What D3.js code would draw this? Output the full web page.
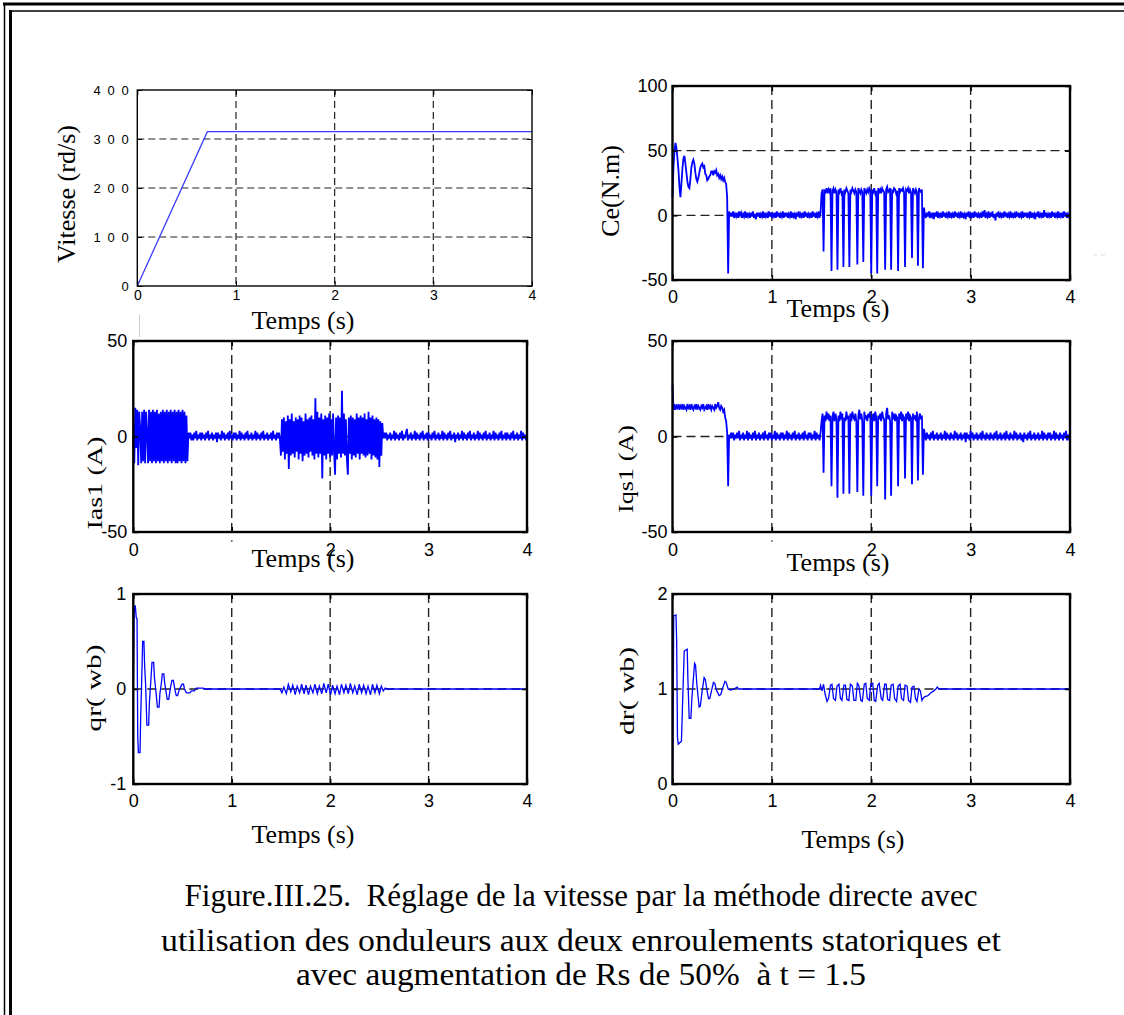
<!DOCTYPE html>
<html><head><meta charset="utf-8">
<script src="https://cdn.jsdelivr.net/npm/d3@7"></script>
<style>
html,body{margin:0;padding:0;background:#fff;}
svg{display:block;}
</style></head>
<body>
<script>
// ---------------- DATA ----------------
const timeTicks = [0, 1, 2, 3, 4];
const timeTickLabels = ["0", "1", "2", "3", "4"];
const timeTickLabelsNo1 = ["0", "", "2", "3", "4"];

// Vitesse (rd/s)
const vitTime = [0, 0.71, 4];
const vitValue = [0, 315, 315];
const vitYTicks = [0, 100, 200, 300, 400];
const vitYTickLabels = ["0", "1 0 0", "2 0 0", "3 0 0", "4 0 0"];

// sampled series: one value every 0.01 s from 0 to 4 s
const sampleStep = 0.01;

// Ce (N.m)
const ceValue = [
 14,38,50,56,52,44,35,22,14,25,
 36,44,46,40,33,26,22,21,28,37,
 41,43,40,33,28,26,29,33,37,39,
 40,37,38,32,31,27,28,30,31,34,
 34,31,34,33,35,31,32,29,31,28,
 30,27,29,26,24,14,-45,3,-1,2,
 -1,3,-2,1,-1,2,-2,3,0,2,
 -2,1,-1,3,-2,2,-1,1,-2,2,
 -1,3,-2,1,-3,2,-1,2,-2,1,
 -1,3,-2,2,-1,1,-2,3,-1,2,
 -2,1,-1,2,-2,3,-1,2,-2,1,
 -1,3,-2,2,-1,2,-2,1,-1,3,
 -2,2,-1,1,-3,2,-1,3,-2,1,
 -1,2,-2,3,-1,2,-2,1,-1,2,
 -2,3,-1,2,-2,1,-1,3,-2,2,
 17,20,-28,19,18,21,17,20,18,21,
 -43,19,21,17,20,18,-42,20,18,21,
 17,19,-40,20,18,21,19,17,-40,20,
 18,21,19,17,20,18,-38,21,19,17,
 20,18,-36,21,19,17,20,18,21,19,
 -45,20,18,21,17,19,-45,21,18,20,
 17,21,19,18,-42,20,22,18,19,21,
 -42,19,18,21,20,17,19,-43,21,18,
 20,19,21,18,-40,20,19,21,17,20,
 18,-33,21,19,17,20,18,-39,21,19,
 18,20,-41,6,1,-2,2,-1,3,-2,
 1,-1,2,-3,2,-1,3,-2,1,-1,
 2,-2,3,-1,2,-2,1,-1,3,-2,
 2,-1,1,-2,3,-1,2,-2,1,-1,
 3,-2,2,-1,1,-3,2,-1,3,-2,
 1,-1,2,-2,3,-1,2,-2,1,-1,
 2,-2,3,-1,4,-2,1,-1,3,-2,
 2,-1,3,-2,1,-4,2,-1,3,-2,
 1,-1,2,-2,3,-1,2,-2,1,-1,
 3,-2,2,-1,1,-2,3,-1,2,-2,
 1,-1,3,-2,2,-1,2,-2,1,-1,
 3,-2,2,-1,1,-3,2,-1,3,-2,
 1,-1,2,-2,4,-1,2,-2,1,-1,
 2,-2,3,-1,2,-2,1,-1,3,-2,
 2,-1,1,-2,3,-1,2,-2,1,-1,
 0];
const ceYTicks = [-50, 0, 50, 100];
const ceYTickLabels = ["-50", "0", "50", "100"];

// Ias1 (A)
const iasValue = [
 0,-14,15,-6,14,-15,13,4,-14,13,
 -13,14,-14,13,2,-14,14,-13,13,-14,
 14,-13,13,-14,14,-13,12,-14,13,-13,
 14,-14,13,-13,14,-14,13,-13,14,-14,
 13,-13,14,-14,13,-14,14,-13,13,-14,
 14,-13,13,-14,11,-13,2,-1,2,-2,
 1,-2,2,-1,3,-2,1,-1,2,-2,
 2,-1,1,-2,2,-1,3,-2,1,-1,
 2,-2,1,-1,2,-3,2,-1,1,-2,
 3,-1,2,-2,1,-1,2,-2,3,-1,
 1,-2,2,-1,2,-2,1,-1,3,-2,
 2,-1,1,-2,2,-1,3,-2,1,-1,
 2,-2,1,-1,3,-2,2,-1,1,-2,
 2,-1,3,-2,1,-1,2,-2,1,-1,
 2,-2,3,-1,1,-2,2,-1,2,-2,
 -10,9,-8,10,-12,8,-9,11,-17,9,
 -10,12,-9,8,-11,10,-8,9,-12,11,
 -9,10,-13,8,-10,12,-9,9,-11,10,
 -8,11,-10,9,-12,20,-9,13,-11,10,
 -9,12,-22,9,-10,11,-12,10,-9,12,
 -11,9,-10,12,-8,-20,10,-12,11,-9,
 10,-11,24,-9,12,-10,9,-12,-20,10,
 -9,11,-12,10,-10,9,-11,12,-9,10,
 -12,11,-9,10,-10,12,-11,9,-10,13,
 -9,10,-12,11,-10,9,-11,10,-12,9,
 -16,8,-10,7,-1,2,-1,2,-2,1,
 -1,2,-2,1,-1,3,-2,2,-1,1,
 -2,2,-1,3,-2,1,-1,2,4,-2,
 1,-1,2,-2,1,-1,3,-2,2,-1,
 1,-2,2,-1,3,-2,1,-1,2,-2,
 2,-1,1,-2,2,-1,3,-2,1,-1,
 2,-2,1,-1,3,-2,2,-1,1,-2,
 2,-1,3,-2,1,-1,2,-3,1,-1,
 2,-2,1,-1,3,-2,2,-1,1,-2,
 2,-1,3,-2,1,-1,2,-2,1,-1,
 3,-2,2,-1,1,-2,2,-1,3,-2,
 1,-1,2,-2,1,-1,3,-2,2,-1,
 1,-2,2,-1,3,-2,1,-1,2,-2,
 2,-1,1,-2,2,-1,3,-2,1,-1,
 2,-2,1,-1,3,-2,2,-1,1,-2,
 0];
const curYTicks = [-50, 0, 50];
const curYTickLabels = ["-50", "0", "50"];

// Iqs1 (A)
const iqsValue = [
 27,14,17,14,16,15,17,14,16,15,
 17,14,16,15,14,17,15,16,14,17,
 15,14,16,15,17,14,16,15,14,16,
 15,17,14,15,16,14,17,15,16,14,
 16,15,14,17,15,16,18,15,14,16,
 15,13,14,10,8,2,-26,1,-1,2,
 -1,2,-2,1,-1,2,-1,3,-2,1,
 -1,2,-2,1,-1,3,-2,2,-1,1,
 -2,2,-1,3,-2,1,-1,2,-2,1,
 -1,2,-2,3,-1,1,-2,2,-1,2,
 -2,1,-1,3,-2,2,-1,1,-2,2,
 -1,2,-2,1,-1,3,-2,2,-1,1,
 -2,2,-1,3,-2,1,-1,2,-2,1,
 -1,2,-2,3,-1,1,-2,2,-1,2,
 -2,1,-1,3,-2,2,-1,1,-2,2,
 8,12,-19,11,8,13,9,12,8,11,
 -26,10,13,8,12,9,-32,11,8,13,
 9,12,-30,10,8,13,9,11,-30,12,
 8,13,10,9,12,8,-29,11,14,9,
 12,8,-31,13,9,11,8,12,10,13,
 -31,9,12,8,13,10,-26,11,9,12,
 8,13,10,9,-33,12,15,9,11,8,
 -31,13,9,12,8,11,10,-26,12,9,
 13,8,11,10,-22,12,9,13,8,11,
 10,-25,12,9,11,8,13,-23,10,12,
 9,11,-20,4,1,-2,2,-1,1,-2,
 2,-1,3,-2,1,-1,2,-2,1,-1,
 2,-2,1,-1,3,-2,2,-1,1,-2,
 2,-1,1,-2,3,-1,2,-2,1,-1,
 2,-2,1,-1,2,-3,2,-1,1,-2,
 3,-1,2,-2,1,-1,2,-2,1,-1,
 2,-2,3,-1,1,-2,2,-1,1,-2,
 2,-1,1,-2,2,-1,3,-2,1,-1,
 2,-2,1,-1,2,-2,3,-1,1,-2,
 2,-1,1,-2,3,-1,2,-2,1,-1,
 2,-2,1,-3,2,-1,1,-2,2,-1,
 3,-2,1,-1,2,-2,1,-1,2,-2,
 1,-1,3,-2,2,-1,1,-2,2,-1,
 2,-2,1,-1,3,-2,2,-1,1,-2,
 2,-1,1,-2,2,-1,3,-2,1,-1,
 0];

// flux qr (wb)
const qrTime = [0,0.01,0.02,0.03,0.038,0.045,0.052,0.068,0.075,0.088,0.095,0.108,0.115,0.125,0.138,0.156,0.163,0.176,0.19,0.207,0.215,0.232,0.245,0.262,0.27,0.285,0.295,0.31,0.318,0.333,0.345,0.36,0.368,0.38,0.393,0.407,0.415,0.425,0.437,0.45,0.46,0.48,0.495,0.51,0.52,0.54,0.575,0.59,0.62,0.64,0.71,0.72,1.49,
 1.51,1.53,1.555,1.575,1.6,1.62,1.645,1.665,1.69,1.71,1.735,1.755,1.78,1.8,1.825,1.845,1.87,1.89,1.915,1.935,1.96,1.98,2.005,2.025,2.05,2.07,2.095,2.115,2.14,2.16,2.185,2.205,2.23,2.25,2.275,2.295,2.32,2.34,2.365,2.385,2.41,2.43,2.455,2.475,2.5,2.52,2.54,2.56,2.58,4];
const qrValue = [0,0.85,0.88,0.75,0.74,-0.5,-0.67,-0.67,-0.3,0.2,0.5,0.5,0.25,0.05,-0.38,-0.38,-0.15,0.05,0.28,0.28,0.12,-0.05,-0.19,-0.19,-0.05,0.06,0.16,0.16,0.07,-0.03,-0.11,-0.11,-0.05,0.03,0.09,0.09,0.04,-0.02,-0.07,-0.07,-0.03,0.02,0.05,0.05,0,-0.04,-0.04,-0.02,-0.02,0.01,0.01,0,0,
 -0.04,0.02,-0.05,0.05,-0.03,0.04,-0.06,0.03,-0.04,0.05,-0.05,0.04,-0.06,0.03,-0.04,0.05,-0.05,0.03,-0.05,0.06,-0.04,0.05,-0.06,0.04,-0.05,0.03,-0.06,0.05,-0.04,0.04,-0.05,0.06,-0.04,0.03,-0.06,0.05,-0.04,0.04,-0.05,0.03,-0.06,0.05,-0.04,0.04,-0.05,0.03,-0.02,0.01,0,0];
const qrYTicks = [-1, 0, 1];
const qrYTickLabels = ["-1", "0", "1"];

// flux dr (wb)
const drTime = [0,0.005,0.012,0.035,0.042,0.05,0.058,0.09,0.1,0.118,0.148,0.155,0.168,0.185,0.195,0.222,0.232,0.245,0.268,0.28,0.295,0.318,0.33,0.345,0.362,0.375,0.39,0.412,0.425,0.445,0.47,0.485,0.505,0.528,0.54,0.56,0.585,0.62,0.65,0.665,1.48,
 1.49,1.505,1.52,1.535,1.555,1.57,1.59,1.605,1.62,1.64,1.655,1.675,1.69,1.705,1.725,1.74,1.755,1.775,1.79,1.81,1.825,1.845,1.86,1.875,1.895,1.91,1.93,1.945,1.96,1.98,1.995,2.015,2.03,2.045,2.065,2.08,2.1,2.115,2.135,2.15,2.165,2.185,2.2,2.22,2.235,2.255,2.27,2.29,2.305,2.325,2.34,2.36,2.375,2.395,2.41,2.43,2.445,2.46,2.48,2.495,2.51,2.52,2.54,2.57,2.6,2.63,2.65,2.665,2.68,4];
const drValue = [0,0.5,1.77,1.78,1.5,0.49,0.42,0.45,0.8,1.4,1.42,1.1,0.69,0.69,0.9,1.27,1.25,1.05,0.81,0.82,0.95,1.12,1.1,1.0,0.9,0.9,0.97,1.07,1.06,0.98,0.93,0.94,1.01,1.08,1.07,1.0,0.99,1.0,1.02,1.0,1.0,
 1.04,0.98,1.05,0.95,0.87,0.9,1.04,1.05,0.9,0.88,1.03,1.05,0.9,0.88,1.04,1.04,0.89,0.88,1.05,1.03,0.88,0.88,1.06,1.04,0.88,0.87,1.05,1.06,0.9,0.88,1.05,1.06,0.88,0.87,1.04,1.06,0.9,0.88,1.05,1.05,0.89,0.88,1.04,1.05,0.9,0.87,1.03,1.05,0.9,0.88,1.04,1.03,0.88,0.86,1.02,1.03,0.9,0.87,1.0,0.98,0.88,0.9,0.92,0.93,0.96,0.98,1.0,1.02,1.0,1.0];
const drYTicks = [0, 1, 2];
const drYTickLabels = ["0", "1", "2"];

const captionLines = [
 "Figure.III.25.  Réglage de la vitesse par la méthode directe avec",
 "utilisation des onduleurs aux deux enroulements statoriques et",
 "avec augmentation de Rs de 50%  à t = 1.5"
];

// ---------------- DRAW ----------------
const W = 1124, H = 1015;
const svg = d3.select("body").append("svg").attr("width", W).attr("height", H);
svg.append("rect").attr("width", W).attr("height", H).attr("fill", "#fff");

// page border (double line)
const border = svg.append("g").attr("fill", "none").attr("stroke", "#000");
border.append("line").attr("x1", 3).attr("x2", W).attr("y1", 4).attr("y2", 4).attr("stroke-width", 3);
border.append("line").attr("x1", 9).attr("x2", W).attr("y1", 11).attr("y2", 11).attr("stroke-width", 1.5);
border.append("line").attr("x1", 4.5).attr("x2", 4.5).attr("y1", 3).attr("y2", H).attr("stroke-width", 1.5);
border.append("line").attr("x1", 10.5).attr("x2", 10.5).attr("y1", 10).attr("y2", H).attr("stroke-width", 3);

const sans = "'Liberation Sans', Arial, sans-serif";
const serif = "'Liberation Serif', 'Times New Roman', serif";

function sampled(values) {
  return values.map((v, i) => ({ t: i * sampleStep, v }));
}
function paired(ts, vs) {
  return ts.map((t, i) => ({ t, v: vs[i] }));
}

const panels = [
  { x0: 137.3, x1: 532, y0: 90, y1: 286, dom: [0, 400], yTicks: vitYTicks, yLab: vitYTickLabels,
    xLab: timeTickLabels, data: paired(vitTime, vitValue), color: "#3c3cff", lw: 1.3,
    box: 1.4, grid: 1.2, gridDash: "7,4", tickFont: 13, xTickFont: 14, ls: 1.6, xPad: 4, yPad: 7,
    ylabel: "Vitesse (rd/s)", ylx: 75, yly: 194, ylFont: 26, ylLen: null,
    xlx: 303, xly: 329, thin: true },
  { x0: 672.5, x1: 1070, y0: 86, y1: 280, dom: [-50, 100], yTicks: ceYTicks, yLab: ceYTickLabels,
    xLab: timeTickLabels, data: sampled(ceValue), color: "#0000ff", lw: 1.8,
    box: 2.4, grid: 1.4, gridDash: "9,5", tickFont: 18, xTickFont: 18, ls: 0, xPad: 10, yPad: 5,
    ylabel: "Ce(N.m)", ylx: 619, yly: 191, ylFont: 26, ylLen: null, xlx: 838, xly: 317 },
  { x0: 133.3, x1: 527, y0: 341, y1: 532, dom: [-50, 50], yTicks: curYTicks, yLab: curYTickLabels,
    xLab: timeTickLabelsNo1, data: sampled(iasValue), color: "#0000ff", lw: 1.8,
    box: 2.4, grid: 1.4, gridDash: "9,5", tickFont: 18, xTickFont: 18, ls: 0, xPad: 11, yPad: 6,
    ylabel: "Ias1 (A)", ylx: 102, yly: 483, ylFont: 22, ylLen: 93, xlx: 303, xly: 567, dot: true },
  { x0: 672.5, x1: 1070, y0: 341, y1: 532, dom: [-50, 50], yTicks: curYTicks, yLab: curYTickLabels,
    xLab: timeTickLabelsNo1, data: sampled(iqsValue), color: "#0000ff", lw: 1.8,
    box: 2.4, grid: 1.4, gridDash: "9,5", tickFont: 18, xTickFont: 18, ls: 0, xPad: 11, yPad: 5,
    ylabel: "Iqs1 (A)", ylx: 633, yly: 469, ylFont: 22, ylLen: 88, xlx: 838, xly: 571, dot: true },
  { x0: 133.3, x1: 527, y0: 594, y1: 784, dom: [-1, 1], yTicks: qrYTicks, yLab: qrYTickLabels,
    xLab: timeTickLabels, data: paired(qrTime, qrValue), color: "#0000ff", lw: 1.3,
    box: 2.4, grid: 1.4, gridDash: "9,5", tickFont: 18, xTickFont: 18, ls: 0, xPad: 10, yPad: 7,
    ylabel: "qr( wb)", ylx: 100.5, yly: 688, ylFont: 22, ylLen: 87, xlx: 303, xly: 843 },
  { x0: 672.5, x1: 1070, y0: 594, y1: 784, dom: [0, 2], yTicks: drYTicks, yLab: drYTickLabels,
    xLab: timeTickLabels, data: paired(drTime, drValue), color: "#0000ff", lw: 1.3,
    box: 2.4, grid: 1.4, gridDash: "9,5", tickFont: 18, xTickFont: 18, ls: 0, xPad: 10, yPad: 5,
    ylabel: "dr( wb)", ylx: 633.5, yly: 691, ylFont: 22, ylLen: 88, xlx: 853, xly: 848 }
];

panels.forEach(p => {
  const x = d3.scaleLinear().domain([0, 4]).range([p.x0, p.x1]);
  const y = d3.scaleLinear().domain(p.dom).range([p.y1, p.y0]);
  const g = svg.append("g");

  // grid
  const gg = g.append("g").attr("stroke", "#222").attr("stroke-width", p.grid)
    .attr("stroke-dasharray", p.gridDash).attr("fill", "none");
  gg.selectAll(".vg").data(timeTicks.slice(1, -1)).join("line")
    .attr("x1", d => x(d)).attr("x2", d => x(d)).attr("y1", p.y0).attr("y2", p.y1);
  gg.selectAll(".hg").data(p.yTicks.slice(1, -1)).join("line")
    .attr("x1", p.x0).attr("x2", p.x1).attr("y1", d => y(d)).attr("y2", d => y(d));

  // data
  const line = d3.line().x(d => x(d.t)).y(d => y(d.v));
  g.append("path").datum(p.data).attr("d", line).attr("fill", "none")
    .attr("stroke", p.color).attr("stroke-width", p.lw).attr("stroke-linejoin", "miter");

  // box
  g.append("rect").attr("x", p.x0).attr("y", p.y0).attr("width", p.x1 - p.x0).attr("height", p.y1 - p.y0)
    .attr("fill", "none").attr("stroke", "#000").attr("stroke-width", p.box);

  // axes
  const xa = g.append("g").attr("transform", `translate(0,${p.y1})`)
    .call(d3.axisBottom(x).tickValues(timeTicks).tickSize(-5).tickPadding(p.xPad)
      .tickFormat((d, i) => p.xLab[i]));
  xa.selectAll("text").attr("font-size", p.xTickFont).attr("font-family", sans).attr("fill", "#000");
  g.append("g").attr("transform", `translate(0,${p.y0})`)
    .call(d3.axisTop(x).tickValues(timeTicks).tickSize(-5).tickFormat(""));
  const ya = g.append("g").attr("transform", `translate(${p.x0},0)`)
    .call(d3.axisLeft(y).tickValues(p.yTicks).tickSize(-5).tickPadding(p.yPad)
      .tickFormat((d, i) => p.yLab[i]));
  ya.selectAll("text").attr("font-size", p.tickFont).attr("font-family", sans).attr("fill", "#000")
    .attr("letter-spacing", p.ls ? p.ls : null);
  g.append("g").attr("transform", `translate(${p.x1},0)`)
    .call(d3.axisRight(y).tickValues(p.yTicks).tickSize(-5).tickFormat(""));
  g.selectAll(".domain").remove();
  g.selectAll(".tick line").attr("stroke", "#000").attr("stroke-width", p.thin ? 1 : 1.5);

  // x label
  g.append("text").attr("x", p.xlx).attr("y", p.xly).attr("text-anchor", "middle")
    .attr("font-family", serif).attr("font-size", 26).text("Temps (s)");
  // y label
  const yl = g.append("text").attr("transform", `translate(${p.ylx},${p.yly}) rotate(-90)`)
    .attr("text-anchor", "middle").attr("font-family", serif).attr("font-size", p.ylFont).text(p.ylabel);
  if (p.ylLen) yl.attr("textLength", p.ylLen).attr("lengthAdjust", "spacingAndGlyphs");

  if (p.dot) {
    g.append("circle").attr("cx", x(1)).attr("cy", p.y1 + 9).attr("r", 1).attr("fill", "#666");
  }
});

// faint stray marks from the scan
svg.append("line").attr("x1", 139.5).attr("x2", 139.5).attr("y1", 315).attr("y2", 337)
  .attr("stroke", "#ccc").attr("stroke-width", 1);
svg.append("line").attr("x1", 1093).attr("x2", 1109).attr("y1", 255).attr("y2", 255)
  .attr("stroke", "#ddd").attr("stroke-width", 1).attr("stroke-dasharray", "4,4");

// caption
const capY = [906, 951, 985];
const capLen = [793, 840, 570];
svg.append("g").selectAll("text").data(captionLines).join("text")
  .attr("x", 581).attr("y", (d, i) => capY[i]).attr("text-anchor", "middle")
  .attr("font-family", serif).attr("font-size", 32).attr("xml:space", "preserve")
  .attr("textLength", (d, i) => capLen[i]).attr("lengthAdjust", "spacingAndGlyphs")
  .style("white-space", "pre").text(d => d);
</script>
</body></html>
